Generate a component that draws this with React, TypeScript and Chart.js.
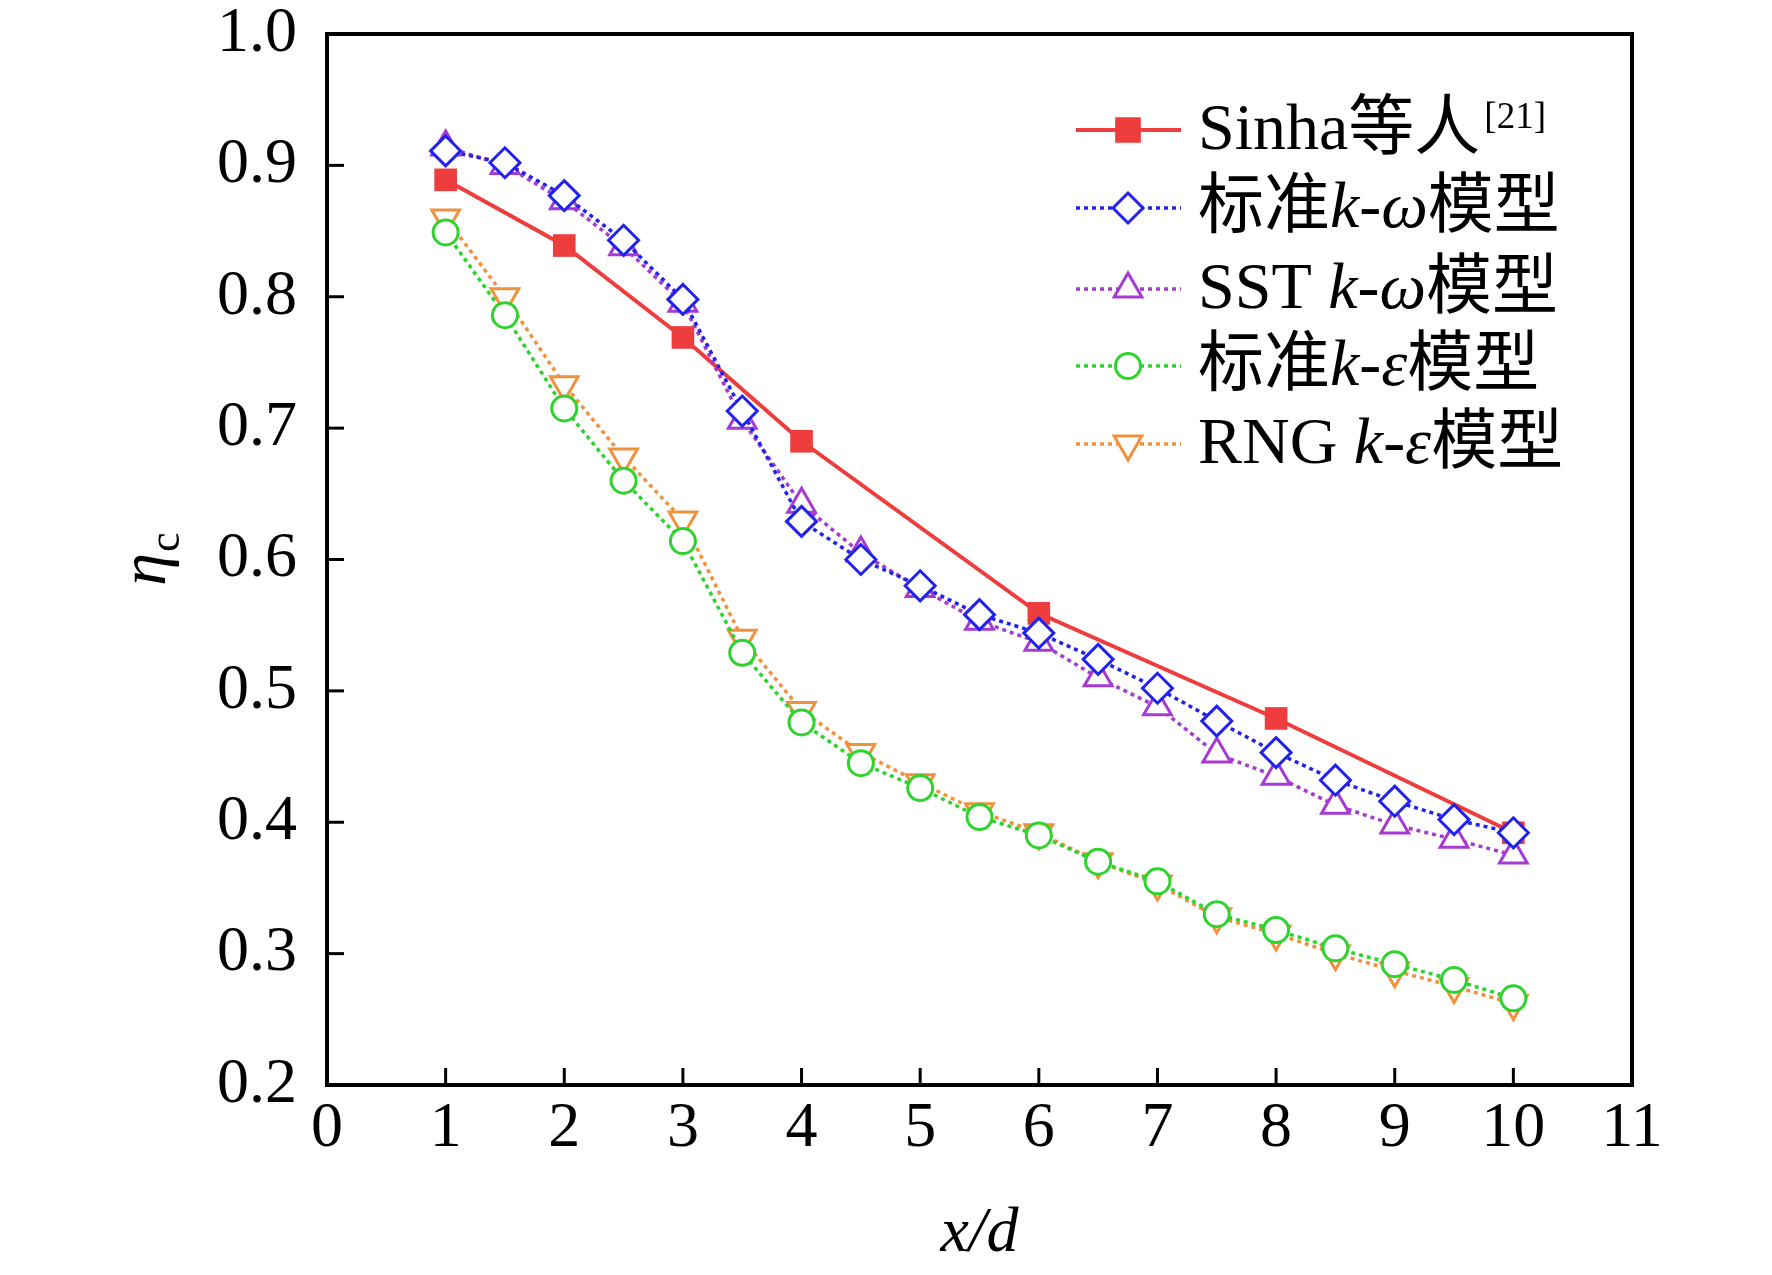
import React, { useEffect, useRef } from 'react';
import { Chart, registerables } from 'chart.js';

Chart.register(...registerables);

// ---- data ----
const sinhaX = [1, 2, 3, 4, 6, 8, 10];
const sinhaY = [0.889, 0.839, 0.769, 0.69, 0.559, 0.479, 0.392];

const modelX = [1, 1.5, 2, 2.5, 3, 3.5, 4, 4.5, 5, 5.5, 6, 6.5, 7, 7.5, 8, 8.5, 9, 9.5, 10];
const stdKwY = [0.911, 0.902, 0.877, 0.843, 0.798, 0.713, 0.629, 0.6, 0.58, 0.558, 0.544, 0.524, 0.502, 0.477, 0.453, 0.432, 0.416, 0.402, 0.392];
const sstKwY = [0.914, 0.9, 0.873, 0.838, 0.795, 0.706, 0.642, 0.605, 0.578, 0.553, 0.537, 0.51, 0.488, 0.452, 0.435, 0.413, 0.398, 0.387, 0.375];
const stdKeY = [0.849, 0.786, 0.715, 0.66, 0.614, 0.529, 0.476, 0.445, 0.426, 0.404, 0.39, 0.37, 0.355, 0.33, 0.318, 0.304, 0.292, 0.28, 0.266];
const rngKeY = [0.86, 0.8, 0.733, 0.678, 0.63, 0.54, 0.485, 0.453, 0.43, 0.408, 0.392, 0.37, 0.353, 0.328, 0.315, 0.3, 0.287, 0.275, 0.262];

const xTickValues = [0, 1, 2, 3, 4, 5, 6, 7, 8, 9, 10, 11];
const yTickValues = [0.2, 0.3, 0.4, 0.5, 0.6, 0.7, 0.8, 0.9, 1.0];

const xTitle = 'x/d';
const yTitleMain = 'η';
const yTitleSub = 'c';

const RED = '#ee3d3d';
const BLUE = '#2222ee';
const PURPLE = '#a63ad2';
const GREEN = '#2ed32e';
const ORANGE = '#f0913e';

type Seg = { t: string; it?: boolean; sup?: boolean };
const legendRows: { color: string; style: string; rot: number; r: number; fill: string; dashed: boolean; segs: Seg[] }[] = [
  { color: RED, style: 'rect', rot: 0, r: 16, fill: RED, dashed: false, segs: [{ t: 'Sinha等人' }, { t: '[21]', sup: true }] },
  { color: BLUE, style: 'rectRot', rot: 0, r: 15, fill: '#fff', dashed: true, segs: [{ t: '标准' }, { t: 'k', it: true }, { t: '-' }, { t: 'ω', it: true }, { t: '模型' }] },
  { color: PURPLE, style: 'triangle', rot: 0, r: 16, fill: '#fff', dashed: true, segs: [{ t: 'SST ' }, { t: 'k', it: true }, { t: '-' }, { t: 'ω', it: true }, { t: '模型' }] },
  { color: GREEN, style: 'circle', rot: 0, r: 12.5, fill: '#fff', dashed: true, segs: [{ t: '标准' }, { t: 'k', it: true }, { t: '-' }, { t: 'ε', it: true }, { t: '模型' }] },
  { color: ORANGE, style: 'triangle', rot: 180, r: 16, fill: '#fff', dashed: true, segs: [{ t: 'RNG ' }, { t: 'k', it: true }, { t: '-' }, { t: 'ε', it: true }, { t: '模型' }] },
];

const SERIF = '"Liberation Serif", "Times New Roman", "Noto Sans CJK SC", serif';

function pts(xs: number[], ys: number[]) {
  return xs.map((x, i) => ({ x, y: ys[i] }));
}

function drawMarker(ctx: CanvasRenderingContext2D, style: string, x: number, y: number, r: number, rot: number, stroke: string, fill: string) {
  ctx.save();
  ctx.beginPath();
  let rad = (rot * Math.PI) / 180;
  if (style === 'rect') {
    const s = Math.SQRT1_2 * r;
    ctx.rect(x - s, y - s, 2 * s, 2 * s);
  } else if (style === 'rectRot') {
    ctx.moveTo(x, y - r);
    ctx.lineTo(x + r, y);
    ctx.lineTo(x, y + r);
    ctx.lineTo(x - r, y);
    ctx.closePath();
  } else if (style === 'circle') {
    ctx.arc(x, y, r, 0, Math.PI * 2);
  } else if (style === 'triangle') {
    ctx.moveTo(x + Math.sin(rad) * r, y - Math.cos(rad) * r);
    rad += (2 * Math.PI) / 3;
    ctx.lineTo(x + Math.sin(rad) * r, y - Math.cos(rad) * r);
    rad += (2 * Math.PI) / 3;
    ctx.lineTo(x + Math.sin(rad) * r, y - Math.cos(rad) * r);
    ctx.closePath();
  }
  ctx.fillStyle = fill;
  ctx.fill();
  ctx.lineWidth = 3;
  ctx.strokeStyle = stroke;
  ctx.stroke();
  ctx.restore();
}

const decorPlugin = {
  id: 'decor',
  afterDraw(chart: any) {
    const { ctx, chartArea: a, scales } = chart;
    ctx.save();
    // frame
    ctx.strokeStyle = '#000';
    ctx.lineWidth = 4;
    ctx.strokeRect(a.left, a.top, a.right - a.left, a.bottom - a.top);
    // inward ticks
    ctx.lineWidth = 3;
    scales.x.ticks.forEach((t: any) => {
      if (t.value <= 0 || t.value >= 11) return;
      const px = scales.x.getPixelForValue(t.value);
      ctx.beginPath();
      ctx.moveTo(px, a.bottom);
      ctx.lineTo(px, a.bottom - 17);
      ctx.stroke();
    });
    scales.y.ticks.forEach((t: any) => {
      if (t.value <= 0.2001 || t.value >= 0.999) return;
      const py = scales.y.getPixelForValue(t.value);
      ctx.beginPath();
      ctx.moveTo(a.left, py);
      ctx.lineTo(a.left + 17, py);
      ctx.stroke();
    });

    // y title: italic eta with upright subscript c
    ctx.save();
    ctx.translate(157, (a.top + a.bottom) / 2);
    ctx.rotate(-Math.PI / 2);
    ctx.fillStyle = '#000';
    ctx.textBaseline = 'alphabetic';
    ctx.font = `italic 66px ${SERIF}`;
    const wEta = ctx.measureText(yTitleMain).width;
    ctx.font = `44px ${SERIF}`;
    const wSub = ctx.measureText(yTitleSub).width;
    const start = -(wEta + wSub) / 2;
    ctx.font = `italic 66px ${SERIF}`;
    ctx.fillText(yTitleMain, start, 8);
    ctx.font = `44px ${SERIF}`;
    ctx.fillText(yTitleSub, start + wEta + 1, 22);
    ctx.restore();

    // legend
    const rowY = [130, 208, 289, 366, 444];
    const lineX0 = 1076;
    const lineX1 = 1181;
    const markX = 1128;
    const textX = 1198;
    legendRows.forEach((row, i) => {
      const y = rowY[i];
      ctx.save();
      ctx.strokeStyle = row.color;
      if (row.dashed) {
        ctx.lineWidth = 3.5;
        ctx.setLineDash([4, 4]);
      } else {
        ctx.lineWidth = 4;
      }
      ctx.beginPath();
      ctx.moveTo(lineX0, y);
      ctx.lineTo(lineX1, y);
      ctx.stroke();
      ctx.restore();
      drawMarker(ctx, row.style, markX, y, row.r, row.rot, row.color, row.fill);
      let x = textX;
      ctx.fillStyle = '#000';
      ctx.textBaseline = 'alphabetic';
      row.segs.forEach((s) => {
        if (s.sup) {
          ctx.font = `37px ${SERIF}`;
          ctx.fillText(s.t, x + 4, y - 2);
          x += ctx.measureText(s.t).width + 4;
        } else {
          ctx.font = `${s.it ? 'italic ' : ''}66px ${SERIF}`;
          ctx.fillText(s.t, x, y + 19);
          x += ctx.measureText(s.t).width;
        }
      });
    });
    ctx.restore();
  },
};

export default function App() {
  const ref = useRef<HTMLCanvasElement | null>(null);
  useEffect(() => {
    if (!ref.current) return;
    const dotted = { borderWidth: 3.5, borderDash: [4, 4], pointBorderWidth: 3, pointBackgroundColor: '#fff' };
    const chart = new Chart(ref.current, {
      type: 'scatter',
      data: {
        datasets: [
          {
            label: 'Sinha等人[21]',
            data: pts(sinhaX, sinhaY),
            showLine: true,
            borderColor: RED,
            backgroundColor: RED,
            borderWidth: 4,
            pointStyle: 'rect',
            pointRadius: 16,
            pointBackgroundColor: RED,
            pointBorderColor: RED,
            pointBorderWidth: 0,
            order: 2,
          },
          {
            label: '标准k-ω模型',
            data: pts(modelX, stdKwY),
            showLine: true,
            borderColor: BLUE,
            pointBorderColor: BLUE,
            pointStyle: 'rectRot',
            pointRadius: 15,
            order: 0,
            ...dotted,
          },
          {
            label: 'SST k-ω模型',
            data: pts(modelX, sstKwY),
            showLine: true,
            borderColor: PURPLE,
            pointBorderColor: PURPLE,
            pointStyle: 'triangle',
            pointRadius: 16,
            order: 1,
            ...dotted,
          },
          {
            label: '标准k-ε模型',
            data: pts(modelX, stdKeY),
            showLine: true,
            borderColor: GREEN,
            pointBorderColor: GREEN,
            pointStyle: 'circle',
            pointRadius: 12.5,
            order: 3,
            ...dotted,
          },
          {
            label: 'RNG k-ε模型',
            data: pts(modelX, rngKeY),
            showLine: true,
            borderColor: ORANGE,
            pointBorderColor: ORANGE,
            pointStyle: 'triangle',
            pointRotation: 180,
            pointRadius: 16,
            order: 4,
            ...dotted,
          },
        ],
      },
      options: {
        responsive: false,
        animation: false,
        devicePixelRatio: 1,
        layout: { padding: { left: 0, top: 34, right: 140, bottom: 0 } },
        plugins: { legend: { display: false }, tooltip: { enabled: false } },
        scales: {
          x: {
            type: 'linear',
            min: 0,
            max: 11,
            afterFit: (s: any) => {
              s.height = 190;
            },
            afterBuildTicks: (s: any) => {
              s.ticks = xTickValues.map((v) => ({ value: v }));
            },
            grid: { display: false, drawTicks: true, tickLength: 10 },
            border: { display: false },
            ticks: {
              color: '#000',
              padding: 2,
              font: { family: SERIF, size: 64, lineHeight: 1.0 },
              callback: (v: any) => String(v),
              maxRotation: 0,
              autoSkip: false,
            },
            title: {
              display: true,
              text: xTitle,
              color: '#000',
              font: { family: SERIF, size: 64, style: 'italic', lineHeight: 1.2 },
              padding: { top: 0, bottom: 2 },
            },
          },
          y: {
            type: 'linear',
            min: 0.2,
            max: 1.0,
            afterFit: (s: any) => {
              s.width = 327;
            },
            afterBuildTicks: (s: any) => {
              s.ticks = yTickValues.map((v) => ({ value: v }));
            },
            grid: { display: false, drawTicks: true, tickLength: 28 },
            border: { display: false },
            ticks: {
              color: '#000',
              padding: 2,
              font: { family: SERIF, size: 64, lineHeight: 1.0 },
              callback: (v: any) => Number(v).toFixed(1),
              autoSkip: false,
            },
          },
        },
      },
      plugins: [decorPlugin],
    } as any);
    return () => chart.destroy();
  }, []);
  return (
    <div style={{ position: 'fixed', left: 0, top: 0, width: 1772, height: 1275, background: '#fff' }}>
      <canvas ref={ref} width={1772} height={1275} style={{ width: 1772, height: 1275, display: 'block' }} />
    </div>
  );
}
